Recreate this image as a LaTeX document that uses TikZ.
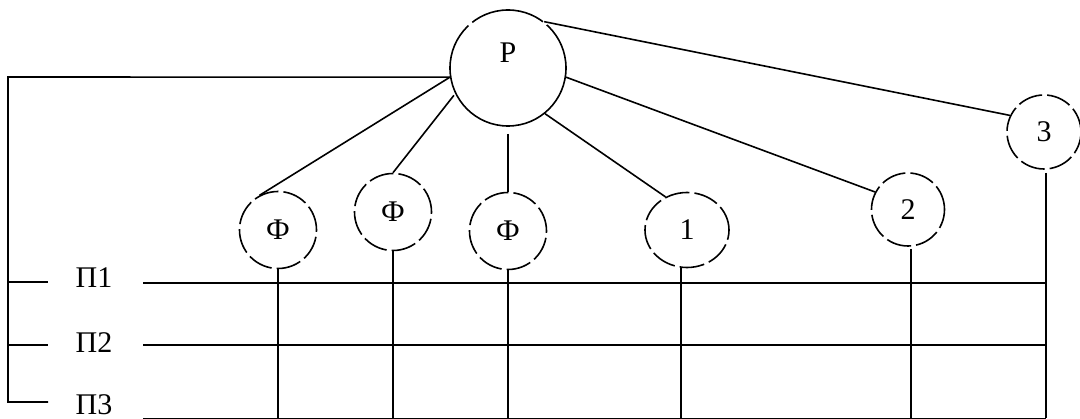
\documentclass[tikz,border=0pt]{standalone}
\usepackage{fontspec}
\setmainfont{Liberation Serif}
\usetikzlibrary{shapes.geometric}
\newcommand\lblfs{\fontsize{30}{36}\selectfont}
\tikzset{
  ln/.style={line width=1.6pt},
  dcirc/.style={circle, draw, line width=1.6pt, dash pattern=on 25pt off 5pt, inner sep=0pt, font=\lblfs},
  lbl/.style={font=\lblfs, inner sep=0pt},
}
\begin{document}
\begin{tikzpicture}[x=1pt,y=-1pt]
\useasboundingbox (0,0) rectangle (1080,419);
% root
\node[circle, draw, line width=1.6pt, minimum size=116pt, inner sep=0pt,
      dash pattern=on 48.6pt off 5pt on 76pt off 5pt on 300pt off 1pt] (P) at (508,68) {};
\node[lbl] (Pl) at (508,53) {Р};
% children
\node[dcirc, minimum size=77pt] (F1) at (278,230) {Ф};
\node[dcirc, minimum size=77pt] (F2) at (393,212) {Ф};
\node[dcirc, minimum size=77pt] (F3) at (508,231) {Ф};
\node[ellipse, draw, line width=1.6pt, dash pattern=on 25pt off 5pt, inner sep=0pt, font=\lblfs,
      minimum width=84pt, minimum height=75pt] (C1) at (687,230) {1};
\node[dcirc, minimum size=73pt] (C2) at (908,209.5) {2};
\node[dcirc, minimum size=74pt] (C3) at (1044,132) {3};
% labels of buses
\node[lbl] (L1) at (94,278) {П1};
\node[lbl] (L2) at (94,343) {П2};
\node[lbl] (L3) at (94,405) {П3};
% coordinates
\coordinate (tl) at (8,77);
\coordinate (bl) at (8,402);
\coordinate (t3) at (48,402);
\coordinate (k1a) at (8,282);  \coordinate (k1b) at (48,282);
\coordinate (k2a) at (8,345);  \coordinate (k2b) at (48,345);
\coordinate (h1a) at (143,283); \coordinate (h1b) at (1046,283);
\coordinate (h2a) at (143,345); \coordinate (h2b) at (1046,345);
\coordinate (h3a) at (143,418.5); \coordinate (h3b) at (1046,418.5);
\coordinate (v1) at (681,418.5);
\coordinate (v2) at (911,418.5);
\coordinate (v3) at (1046,418.5);
% connectors from root
\draw[ln] (P.189) -- (tl) -- (bl) -- (t3);
\draw[ln] (k1a) -- (k1b);
\draw[ln] (k2a) -- (k2b);
\draw[ln] (P.189) -- (F1.118);
\draw[ln, shorten <=2pt] (P.206) -- (F2.north);
\draw[ln, shorten <=7pt] (P.south) -- (F3.north);
\draw[ln] (P.309) -- (C1.123);
\draw[ln] (P.351) -- (C2.152);
\draw[ln] (P.52) -- (C3.154);
% buses
\draw[ln] (h1a) -- (h1b);
\draw[ln] (h2a) -- (h2b);
\draw[ln] (h3a) -- (h3b);
% verticals
\draw[ln] (F1.south) -- (F1.south |- h3a);
\draw[ln] (F2.south) -- (F2.south |- h3a);
\draw[ln] (F3.south) -- (F3.south |- h3a);
\draw[ln] (C1.south -| v1) -- (v1);
\draw[ln, shorten <=2pt] (C2.south -| v2) -- (v2);
\draw[ln, shorten <=3pt] (C3.south -| v3) -- (v3);
\end{tikzpicture}
\end{document}
